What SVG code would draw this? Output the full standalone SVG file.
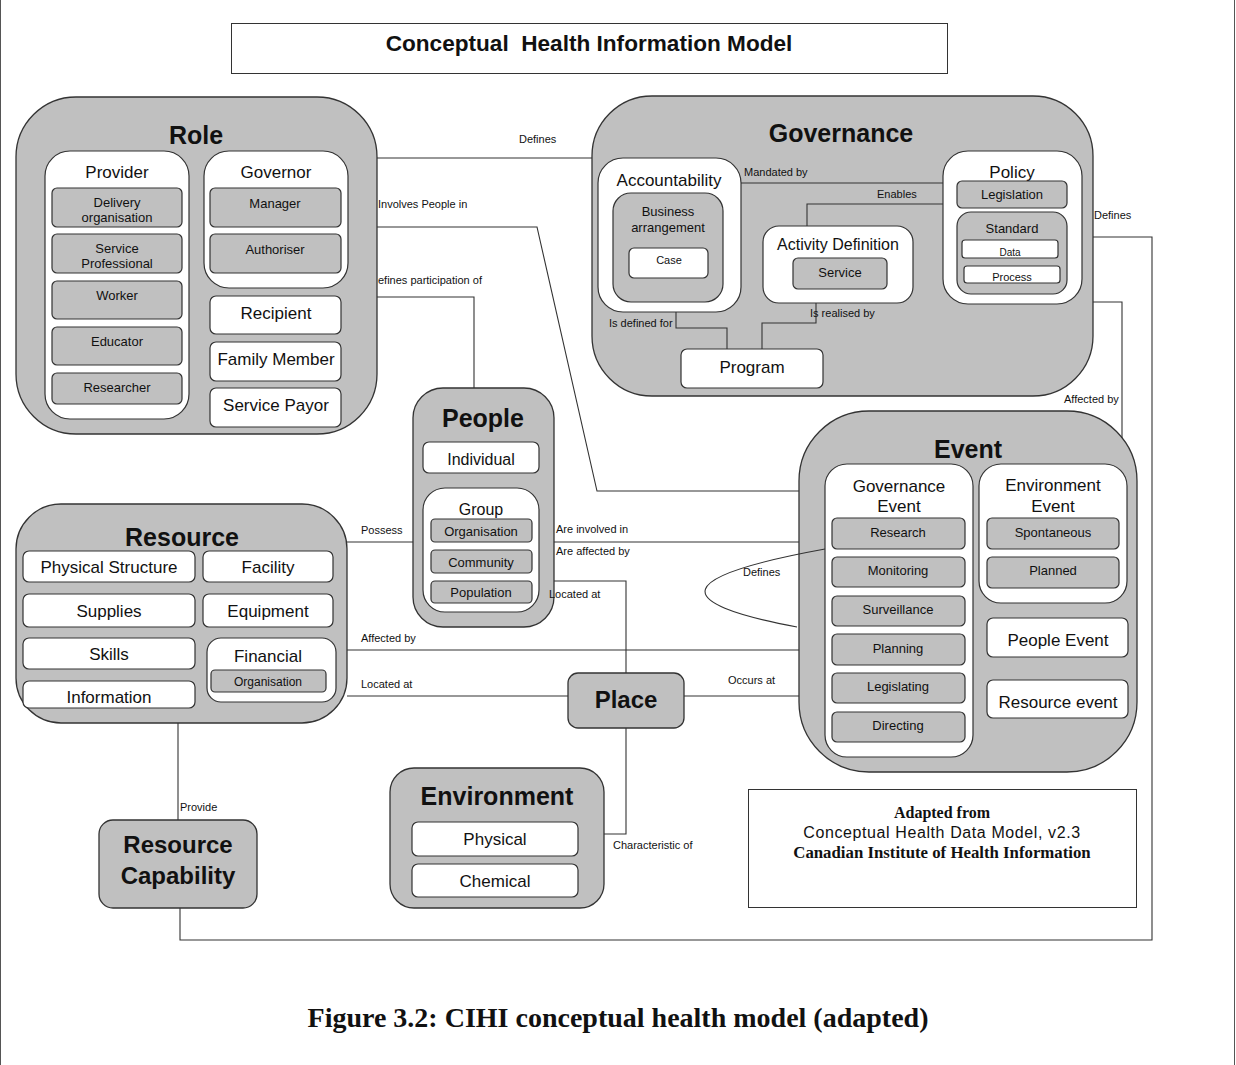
<svg xmlns="http://www.w3.org/2000/svg" width="1236" height="1065" viewBox="0 0 1236 1065">
<style>
text{font-family:"Liberation Sans",Arial,sans-serif;fill:#111}
.o{fill:#c0c0c0;stroke:#333;stroke-width:1.3}
.w{fill:#fff;stroke:#333;stroke-width:1.2}
.g{fill:#c0c0c0;stroke:#333;stroke-width:1.2}
.c{fill:none;stroke:#333;stroke-width:1.1}
.h{font-weight:bold;font-size:25px;text-anchor:middle}
.m{font-size:17px;text-anchor:middle}
.s{font-size:13px;text-anchor:middle}
.l{font-size:11px}
.sf{font-family:"Liberation Serif","Times New Roman",serif;font-weight:bold;text-anchor:middle}
</style>
<line x1="0.5" y1="0" x2="0.5" y2="1065" stroke="#555"/>
<line x1="1234.5" y1="0" x2="1234.5" y2="1065" stroke="#555"/>

<g id="title">
<rect x="231.5" y="23.5" width="716" height="50" fill="#fff" stroke="#333"/>
<text x="589" y="51" style="font-weight:bold;font-size:22.6px;text-anchor:middle;white-space:pre">Conceptual  Health Information Model</text>
</g>

<g id="role">
<rect class="o" x="16" y="97" width="361" height="337" rx="60"/>
<text class="h" x="196" y="144">Role</text>
<rect class="w" x="45" y="151" width="144" height="268" rx="25"/>
<text class="m" x="117" y="178">Provider</text>
<rect class="g" x="52" y="188" width="130" height="39" rx="5"/>
<text class="s" x="117" y="207">Delivery</text>
<text class="s" x="117" y="222">organisation</text>
<rect class="g" x="52" y="234" width="130" height="39" rx="5"/>
<text class="s" x="117" y="253">Service</text>
<text class="s" x="117" y="268">Professional</text>
<rect class="g" x="52" y="281" width="130" height="38" rx="5"/>
<text class="s" x="117" y="300">Worker</text>
<rect class="g" x="52" y="327" width="130" height="38" rx="5"/>
<text class="s" x="117" y="346">Educator</text>
<rect class="g" x="52" y="373" width="130" height="31" rx="5"/>
<text class="s" x="117" y="392">Researcher</text>
<rect class="w" x="204" y="151" width="144" height="137" rx="25"/>
<text class="m" x="276" y="178">Governor</text>
<rect class="g" x="210" y="188" width="131" height="39" rx="5"/>
<text class="s" x="275" y="208">Manager</text>
<rect class="g" x="210" y="234" width="131" height="39" rx="5"/>
<text class="s" x="275" y="254">Authoriser</text>
<rect class="w" x="210" y="296" width="131" height="38" rx="6"/>
<text class="m" x="276" y="319">Recipient</text>
<rect class="w" x="210" y="342" width="131" height="39" rx="6"/>
<text class="m" x="276" y="365">Family Member</text>
<rect class="w" x="210" y="388" width="131" height="39" rx="6"/>
<text class="m" x="276" y="411">Service Payor</text>
</g>

<g id="governance">
<rect class="o" x="592" y="96" width="501" height="300" rx="60"/>
<text class="h" x="841" y="142">Governance</text>
<rect class="w" x="598" y="158" width="143" height="154" rx="25"/>
<text class="m" x="669" y="186">Accountability</text>
<rect class="g" x="613" y="193" width="110" height="109" rx="18"/>
<text class="s" x="668" y="216">Business</text>
<text class="s" x="668" y="232">arrangement</text>
<rect class="w" x="629" y="248" width="79" height="30" rx="5"/>
<text x="669" y="264" style="font-size:11px;text-anchor:middle">Case</text>
<rect class="w" x="763" y="226" width="150" height="77" rx="16"/>
<text x="838" y="250" style="font-size:16px;text-anchor:middle">Activity Definition</text>
<rect class="g" x="793" y="258" width="94" height="31" rx="5"/>
<text class="s" x="840" y="277">Service</text>
<rect class="w" x="943" y="151" width="139" height="153" rx="25"/>
<text class="m" x="1012" y="178">Policy</text>
<rect class="g" x="957" y="181" width="110" height="27" rx="5"/>
<text class="s" x="1012" y="199">Legislation</text>
<rect class="g" x="957" y="212" width="110" height="82" rx="14"/>
<text class="s" x="1012" y="233">Standard</text>
<rect class="w" x="962" y="240" width="96" height="18" rx="3"/>
<text x="1010" y="256" style="font-size:10px;text-anchor:middle">Data</text>
<rect class="w" x="964" y="266" width="96" height="17" rx="3"/>
<text x="1012" y="281" style="font-size:11px;text-anchor:middle">Process</text>
<rect class="w" x="681" y="349" width="142" height="39" rx="6"/>
<text class="m" x="752" y="373">Program</text>
</g>

<g id="people">
<rect class="o" x="413" y="388" width="141" height="239" rx="30"/>
<text class="h" x="483" y="427">People</text>
<rect class="w" x="423" y="442" width="116" height="31" rx="6"/>
<text x="481" y="465" style="font-size:16px;text-anchor:middle">Individual</text>
<rect class="w" x="423" y="488" width="116" height="124" rx="22"/>
<text x="481" y="515" style="font-size:16px;text-anchor:middle">Group</text>
<rect class="g" x="431" y="519" width="101" height="23" rx="4"/>
<text class="s" x="481" y="536">Organisation</text>
<rect class="g" x="431" y="550" width="101" height="23" rx="4"/>
<text class="s" x="481" y="567">Community</text>
<rect class="g" x="431" y="581" width="101" height="22" rx="4"/>
<text class="s" x="481" y="597">Population</text>
</g>

<g id="event">
<rect class="o" x="799" y="411" width="338" height="361" rx="70"/>
<text class="h" x="968" y="458">Event</text>
<rect class="w" x="825" y="464" width="148" height="293" rx="22"/>
<text class="m" x="899" y="492">Governance</text>
<text class="m" x="899" y="512">Event</text>
<rect class="g" x="832" y="518" width="133" height="31" rx="5"/>
<text class="s" x="898" y="537">Research</text>
<rect class="g" x="832" y="557" width="133" height="30" rx="5"/>
<text class="s" x="898" y="575">Monitoring</text>
<rect class="g" x="832" y="596" width="133" height="30" rx="5"/>
<text class="s" x="898" y="614">Surveillance</text>
<rect class="g" x="832" y="634" width="133" height="31" rx="5"/>
<text class="s" x="898" y="653">Planning</text>
<rect class="g" x="832" y="673" width="133" height="30" rx="5"/>
<text class="s" x="898" y="691">Legislating</text>
<rect class="g" x="832" y="712" width="133" height="30" rx="5"/>
<text class="s" x="898" y="730">Directing</text>
<rect class="w" x="979" y="464" width="148" height="139" rx="22"/>
<text class="m" x="1053" y="491">Environment</text>
<text class="m" x="1053" y="512">Event</text>
<rect class="g" x="987" y="518" width="132" height="31" rx="5"/>
<text class="s" x="1053" y="537">Spontaneous</text>
<rect class="g" x="987" y="557" width="132" height="31" rx="5"/>
<text class="s" x="1053" y="575">Planned</text>
<rect class="w" x="987" y="618" width="141" height="39" rx="6"/>
<text class="m" x="1058" y="646">People Event</text>
<rect class="w" x="987" y="680" width="141" height="38" rx="6"/>
<text class="m" x="1058" y="708">Resource event</text>
</g>

<g id="resource">
<rect class="o" x="16" y="504" width="331" height="219" rx="45"/>
<text class="h" x="182" y="546">Resource</text>
<rect class="w" x="23" y="551" width="172" height="31" rx="6"/>
<text class="m" x="109" y="573">Physical Structure</text>
<rect class="w" x="203" y="551" width="130" height="31" rx="6"/>
<text class="m" x="268" y="573">Facility</text>
<rect class="w" x="23" y="594" width="172" height="33" rx="6"/>
<text class="m" x="109" y="617">Supplies</text>
<rect class="w" x="203" y="594" width="130" height="33" rx="6"/>
<text class="m" x="268" y="617">Equipment</text>
<rect class="w" x="23" y="638" width="172" height="31" rx="6"/>
<text class="m" x="109" y="660">Skills</text>
<rect class="w" x="207" y="638" width="129" height="64" rx="14"/>
<text class="m" x="268" y="662">Financial</text>
<rect class="g" x="211" y="670" width="115" height="22" rx="4"/>
<text x="268" y="686" style="font-size:12px;text-anchor:middle">Organisation</text>
<rect class="w" x="23" y="681" width="172" height="27" rx="6"/>
<text class="m" x="109" y="703">Information</text>
</g>

<g id="place">
<rect class="o" x="568" y="673" width="116" height="55" rx="10"/>
<text x="626" y="708" style="font-weight:bold;font-size:24px;text-anchor:middle">Place</text>
</g>

<g id="environment">
<rect class="o" x="390" y="768" width="214" height="140" rx="24"/>
<text class="h" x="497" y="805">Environment</text>
<rect class="w" x="412" y="822" width="166" height="34" rx="6"/>
<text class="m" x="495" y="845">Physical</text>
<rect class="w" x="412" y="864" width="166" height="33" rx="6"/>
<text class="m" x="495" y="887">Chemical</text>
</g>

<g id="resource-capability">
<rect class="o" x="99" y="820" width="158" height="88" rx="14"/>
<text x="178" y="853" style="font-weight:bold;font-size:24px;text-anchor:middle">Resource</text>
<text x="178" y="884" style="font-weight:bold;font-size:24px;text-anchor:middle">Capability</text>
</g>

<g id="source-note">
<rect x="748.5" y="789.5" width="388" height="118" fill="#fff" stroke="#333"/>
<text class="sf" x="942" y="818" style="font-size:16px">Adapted from</text>
<text x="942" y="838" style="font-size:16px;text-anchor:middle;letter-spacing:0.6px">Conceptual Health Data Model, v2.3</text>
<text class="sf" x="942" y="858" style="font-size:16.8px">Canadian Institute of Health Information</text>
</g>

<g id="connectors">
<path class="c" d="M377,158H592"/>
<path class="c" d="M377,227H537L597,491H799"/>
<path class="c" d="M377,297H474V388"/>
<path class="c" d="M741,183H943"/>
<path class="c" d="M943,204H807V226"/>
<path class="c" d="M676,312V328H727V349"/>
<path class="c" d="M816,303V323H762V349"/>
<path class="c" d="M1093,237H1152V940H180V908"/>
<path class="c" d="M1093,302H1122V438"/>
<path class="c" d="M347,542H413"/>
<path class="c" d="M554,542H799"/>
<path class="c" d="M347,650H799"/>
<path class="c" d="M347,696H568"/>
<path class="c" d="M554,581H626V673"/>
<path class="c" d="M684,696H799"/>
<path class="c" d="M626,728V834H604"/>
<path class="c" d="M178,723V820"/>
<path class="c" d="M825,549Q600,590 797,627"/>
<text class="l" x="519" y="143">Defines</text>
<text class="l" x="378" y="208">Involves People in</text>
<text class="l" x="378" y="284">efines participation of</text>
<text class="l" x="744" y="176">Mandated by</text>
<text class="l" x="877" y="198">Enables</text>
<text class="l" x="609" y="327">Is defined for</text>
<text class="l" x="810" y="317">Is realised by</text>
<text class="l" x="1094" y="219">Defines</text>
<text class="l" x="1064" y="403">Affected by</text>
<text class="l" x="361" y="534">Possess</text>
<text class="l" x="556" y="533">Are involved in</text>
<text class="l" x="556" y="555">Are affected by</text>
<text class="l" x="549" y="598">Located at</text>
<text class="l" x="361" y="642">Affected by</text>
<text class="l" x="361" y="688">Located at</text>
<text class="l" x="728" y="684">Occurs at</text>
<text class="l" x="743" y="576">Defines</text>
<text class="l" x="180" y="811">Provide</text>
<text class="l" x="613" y="849">Characteristic of</text>
</g>

<text class="sf" x="618" y="1027" style="font-size:28px">Figure 3.2: CIHI conceptual health model (adapted)</text>
</svg>
